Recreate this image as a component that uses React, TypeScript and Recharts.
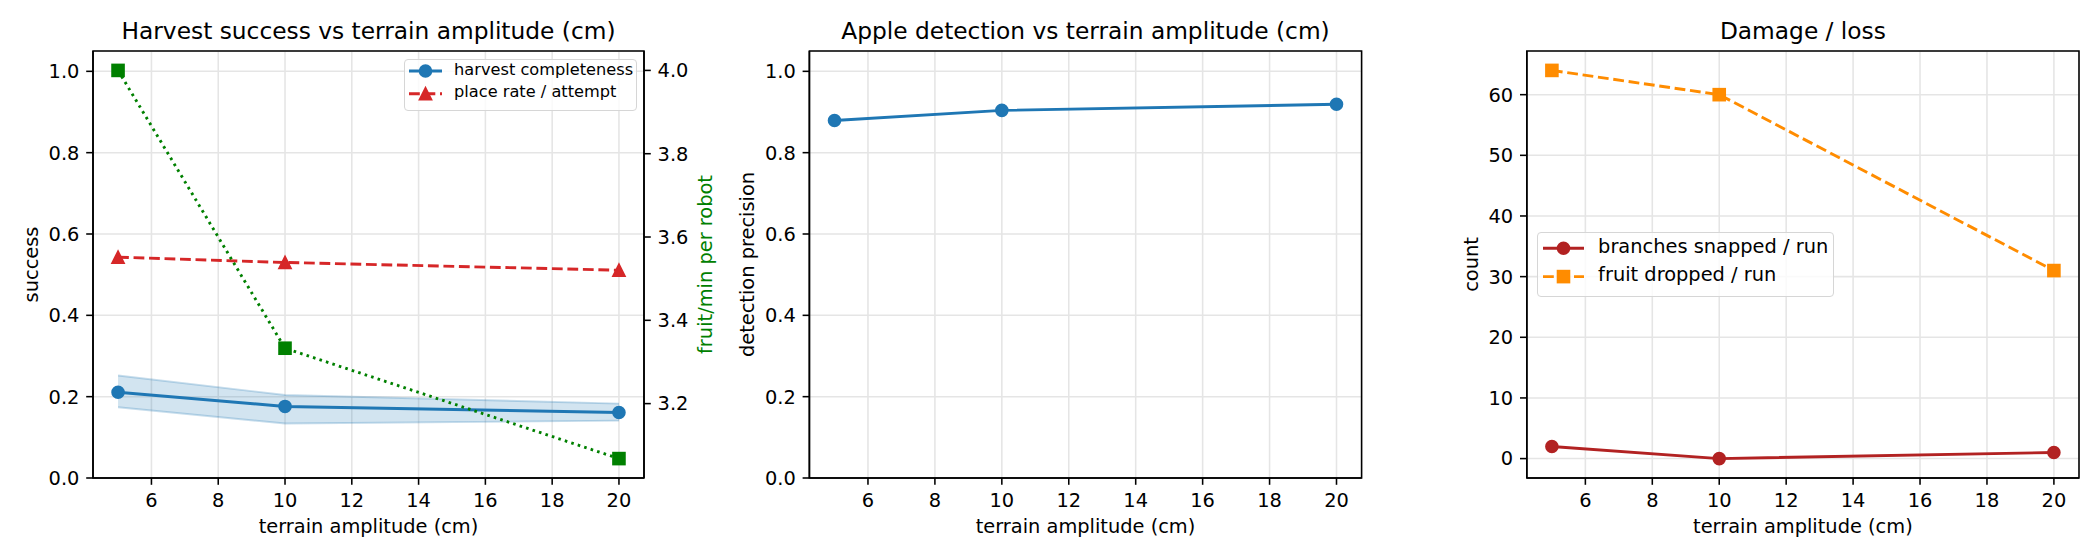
import React from 'react';
import {
  Area,
  CartesianGrid,
  ComposedChart,
  Label,
  Legend,
  Line,
  LineChart,
  ReferenceArea,
  XAxis,
  YAxis,
} from 'recharts';

// terrain amplitude sweep (cm)
const amplitudes = [5, 10, 20];

// panel 1: harvest success
const harvestCompleteness = [0.211, 0.176, 0.161];
const harvestLow = [0.174, 0.134, 0.141];
const harvestHigh = [0.252, 0.204, 0.183];
const placeRate = [0.543, 0.53, 0.511];
const fruitPerMinute = [4.0, 3.333, 3.068];

// panel 2: detection
const detectionPrecision = [0.879, 0.904, 0.919];

// panel 3: damage / loss
const branchesSnapped = [2, 0, 1];
const fruitDropped = [64, 60, 31];

const xTicks = [6, 8, 10, 12, 14, 16, 18, 20];
const unitTicks = [0, 0.2, 0.4, 0.6, 0.8, 1.0];
const rateTicks = [3.2, 3.4, 3.6, 3.8, 4.0];
const countTicks = [0, 10, 20, 30, 40, 50, 60];

// matplotlib-style 5% autoscale margins
const padded = (vals: number[]): [number, number] => {
  const lo = Math.min(...vals);
  const hi = Math.max(...vals);
  const m = (hi - lo) * 0.05;
  return [lo - m, hi + m];
};

const xDomain = padded(amplitudes);
const unitDomain: [number, number] = [0, 1.05];
const rateDomain = padded(fruitPerMinute);
const countDomain = padded([...branchesSnapped, ...fruitDropped]);

const panel1Data = amplitudes.map((x, i) => ({
  x,
  harvest: harvestCompleteness[i],
  band: [harvestLow[i], harvestHigh[i]],
  place: placeRate[i],
  rate: fruitPerMinute[i],
}));
const panel2Data = amplitudes.map((x, i) => ({ x, precision: detectionPrecision[i] }));
const panel3Data = amplitudes.map((x, i) => ({
  x,
  branches: branchesSnapped[i],
  dropped: fruitDropped[i],
}));

const INK = '#000';
const GRID = '#e5e5e5';
const BLUE = '#1f77b4';
const RED = '#d62728';
const GREEN = '#008000';
const FIREBRICK = '#b22222';
const ORANGE = '#ff8c00';

const LW = 2.9;
const MS = 11.7;
const MEW = 1.9;
const DASHED = '10.8 4.7';
const DOTTED = '2.6 4.2';

const TICK_FS = 19.4;
const LABEL_FS = 19.4;
const TITLE_FS = 23.3;

const axisLine = { stroke: INK, strokeWidth: 1.56 };
const tickLine = { stroke: INK, strokeWidth: 1.56 };
const tickStyle = { fontSize: TICK_FS, fill: INK };

type MarkerKind = 'circle' | 'square' | 'triangle';

function markerShape(kind: MarkerKind, cx: number, cy: number, color: string, key?: React.Key) {
  const h = MS / 2;
  if (kind === 'square') {
    return (
      <rect key={key} x={cx - h} y={cy - h} width={MS} height={MS} fill={color} stroke={color} strokeWidth={MEW} />
    );
  }
  if (kind === 'triangle') {
    return (
      <polygon
        key={key}
        points={`${cx},${cy - h} ${cx - h},${cy + h} ${cx + h},${cy + h}`}
        fill={color}
        stroke={color}
        strokeWidth={MEW}
      />
    );
  }
  return <circle key={key} cx={cx} cy={cy} r={h} fill={color} stroke={color} strokeWidth={MEW} />;
}

const dotOf = (kind: MarkerKind, color: string) => (p: any) =>
  markerShape(kind, p.cx, p.cy, color, `${p.dataKey}-${p.index}`);

type LegendItem = { name: string; color: string; marker: MarkerKind; dash?: string };

interface MplLegendProps {
  items: LegendItem[];
  width: number;
  height: number;
  fontSize: number;
  firstRow: number;
  rowPitch: number;
  handleX0: number;
  handleX1: number;
  textX: number;
}

function MplLegend({ items, width, height, fontSize, firstRow, rowPitch, handleX0, handleX1, textX }: MplLegendProps) {
  return (
    <div
      style={{
        position: 'relative',
        width,
        height,
        boxSizing: 'border-box',
        border: '1.9px solid #d6d6d6',
        borderRadius: 4,
        background: 'rgba(255,255,255,0.8)',
        fontFamily: '"DejaVu Sans", sans-serif',
      }}
    >
      <svg width={width} height={height} style={{ position: 'absolute', left: -1.9, top: -1.9 }}>
        {items.map((it, i) => {
          const cy = firstRow + i * rowPitch;
          return (
            <g key={it.name}>
              <line
                x1={handleX0}
                x2={handleX1}
                y1={cy}
                y2={cy}
                stroke={it.color}
                strokeWidth={LW}
                strokeDasharray={it.dash}
              />
              {markerShape(it.marker, (handleX0 + handleX1) / 2, cy, it.color)}
            </g>
          );
        })}
      </svg>
      {items.map((it, i) => {
        const cy = firstRow + i * rowPitch;
        return (
          <span
            key={it.name}
            style={{
              position: 'absolute',
              left: textX - 1.9,
              top: cy - 1.9 - 0.576 * fontSize,
              fontSize,
              lineHeight: 1,
              whiteSpace: 'nowrap',
              color: INK,
            }}
          >
            {it.name}
          </span>
        );
      })}
    </div>
  );
}

const panel1Legend: LegendItem[] = [
  { name: 'harvest completeness', color: BLUE, marker: 'circle' },
  { name: 'place rate / attempt', color: RED, marker: 'triangle', dash: DASHED },
];

const panel3Legend: LegendItem[] = [
  { name: 'branches snapped / run', color: FIREBRICK, marker: 'circle' },
  { name: 'fruit dropped / run', color: ORANGE, marker: 'square', dash: DASHED },
];

const xAxisProps = {
  dataKey: 'x',
  type: 'number' as const,
  domain: xDomain,
  ticks: xTicks,
  interval: 0 as const,
  height: 56,
  tickSize: 6.8,
  tickMargin: 8,
  tick: tickStyle,
  axisLine,
  tickLine,
};

const yTickProps = {
  type: 'number' as const,
  interval: 0 as const,
  tickSize: 6.8,
  tickMargin: 6.8,
  tick: tickStyle,
  axisLine,
  tickLine,
};

const oneDecimal = (v: number) => v.toFixed(1);

function HarvestPanel() {
  return (
    <ComposedChart width={720} height={560} data={panel1Data} margin={{ top: 51, right: 20, bottom: 26, left: 0 }}>
      <CartesianGrid yAxisId="left" stroke={GRID} strokeWidth={1.56} />
      <XAxis {...xAxisProps}>
        <Label value="terrain amplitude (cm)" position="insideBottom" offset={1} fontSize={LABEL_FS} fill={INK} />
      </XAxis>
      <YAxis yAxisId="left" {...yTickProps} domain={unitDomain} ticks={unitTicks} width={93} tickFormatter={oneDecimal}>
        <Label value="success" angle={-90} position="center" dx={-15.6} fontSize={LABEL_FS} fill={INK} />
      </YAxis>
      <YAxis
        yAxisId="right"
        orientation="right"
        {...yTickProps}
        domain={rateDomain}
        ticks={rateTicks}
        width={56}
        tickFormatter={oneDecimal}
      >
        <Label value="fruit/min per robot" angle={-90} position="center" dx={33} fontSize={LABEL_FS} fill={GREEN} />
      </YAxis>
      <Area
        yAxisId="left"
        type="linear"
        dataKey="band"
        stroke={BLUE}
        strokeOpacity={0.25}
        strokeWidth={1.9}
        fill={BLUE}
        fillOpacity={0.2}
        dot={false}
        activeDot={false}
        isAnimationActive={false}
      />
      <Line
        yAxisId="left"
        type="linear"
        dataKey="harvest"
        stroke={BLUE}
        strokeWidth={LW}
        dot={dotOf('circle', BLUE)}
        activeDot={false}
        isAnimationActive={false}
      />
      <Line
        yAxisId="left"
        type="linear"
        dataKey="place"
        stroke={RED}
        strokeWidth={LW}
        strokeDasharray={DASHED}
        dot={dotOf('triangle', RED)}
        activeDot={false}
        isAnimationActive={false}
      />
      <Line
        yAxisId="right"
        type="linear"
        dataKey="rate"
        stroke={GREEN}
        strokeWidth={LW}
        strokeDasharray={DOTTED}
        dot={dotOf('square', GREEN)}
        activeDot={false}
        isAnimationActive={false}
      />
      <ReferenceArea
        yAxisId="left"
        x1={xDomain[0]}
        x2={xDomain[1]}
        y1={unitDomain[0]}
        y2={unitDomain[1]}
        fill="none"
        stroke={INK}
        strokeWidth={1.56}
        ifOverflow="visible"
      >
        <Label value="Harvest success vs terrain amplitude (cm)" position="top" offset={11.7} fontSize={TITLE_FS} fill={INK} />
      </ReferenceArea>
      <Legend
        layout="horizontal"
        verticalAlign="middle"
        align="center"
        wrapperStyle={{ left: 404, top: 59, width: 233, height: 52 }}
        content={() => (
          <MplLegend
            items={panel1Legend}
            width={233}
            height={52}
            fontSize={16.2}
            firstRow={13}
            rowPitch={22.7}
            handleX0={6}
            handleX1={39}
            textX={51}
          />
        )}
      />
    </ComposedChart>
  );
}

function DetectionPanel() {
  return (
    <LineChart width={660} height={560} data={panel2Data} margin={{ top: 51, right: 18.4, bottom: 26, left: 0 }}>
      <CartesianGrid stroke={GRID} strokeWidth={1.56} />
      <XAxis {...xAxisProps}>
        <Label value="terrain amplitude (cm)" position="insideBottom" offset={1} fontSize={LABEL_FS} fill={INK} />
      </XAxis>
      <YAxis {...yTickProps} domain={unitDomain} ticks={unitTicks} width={89.4} tickFormatter={oneDecimal}>
        <Label value="detection precision" angle={-90} position="center" dx={-17.6} fontSize={LABEL_FS} fill={INK} />
      </YAxis>
      <Line
        type="linear"
        dataKey="precision"
        stroke={BLUE}
        strokeWidth={LW}
        dot={dotOf('circle', BLUE)}
        activeDot={false}
        isAnimationActive={false}
      />
      <ReferenceArea
        x1={xDomain[0]}
        x2={xDomain[1]}
        y1={unitDomain[0]}
        y2={unitDomain[1]}
        fill="none"
        stroke={INK}
        strokeWidth={1.56}
        ifOverflow="visible"
      >
        <Label value="Apple detection vs terrain amplitude (cm)" position="top" offset={11.7} fontSize={TITLE_FS} fill={INK} />
      </ReferenceArea>
    </LineChart>
  );
}

function DamagePanel() {
  return (
    <LineChart width={660} height={560} data={panel3Data} margin={{ top: 51, right: 21, bottom: 26, left: 0 }}>
      <CartesianGrid stroke={GRID} strokeWidth={1.56} />
      <XAxis {...xAxisProps}>
        <Label value="terrain amplitude (cm)" position="insideBottom" offset={1} fontSize={LABEL_FS} fill={INK} />
      </XAxis>
      <YAxis {...yTickProps} domain={countDomain} ticks={countTicks} width={86.8}>
        <Label value="count" angle={-90} position="center" dx={-12.6} fontSize={LABEL_FS} fill={INK} />
      </YAxis>
      <Line
        type="linear"
        dataKey="branches"
        stroke={FIREBRICK}
        strokeWidth={LW}
        dot={dotOf('circle', FIREBRICK)}
        activeDot={false}
        isAnimationActive={false}
      />
      <Line
        type="linear"
        dataKey="dropped"
        stroke={ORANGE}
        strokeWidth={LW}
        strokeDasharray={DASHED}
        dot={dotOf('square', ORANGE)}
        activeDot={false}
        isAnimationActive={false}
      />
      <ReferenceArea
        x1={xDomain[0]}
        x2={xDomain[1]}
        y1={countDomain[0]}
        y2={countDomain[1]}
        fill="none"
        stroke={INK}
        strokeWidth={1.56}
        ifOverflow="visible"
      >
        <Label value="Damage / loss" position="top" offset={11.7} fontSize={TITLE_FS} fill={INK} />
      </ReferenceArea>
      <Legend
        layout="horizontal"
        verticalAlign="middle"
        align="center"
        wrapperStyle={{ left: 97, top: 231.7, width: 297, height: 65 }}
        content={() => (
          <MplLegend
            items={panel3Legend}
            width={297}
            height={65}
            fontSize={19.4}
            firstRow={17.3}
            rowPitch={28.3}
            handleX0={7}
            handleX1={48}
            textX={62}
          />
        )}
      />
    </LineChart>
  );
}

export default function App() {
  return (
    <div
      style={{
        position: 'absolute',
        left: 0,
        top: 0,
        width: 2100,
        height: 560,
        background: '#fff',
        overflow: 'hidden',
        fontFamily: '"DejaVu Sans", sans-serif',
      }}
    >
      <div style={{ position: 'absolute', left: 0, top: 0 }}>
        <HarvestPanel />
      </div>
      <div style={{ position: 'absolute', left: 720, top: 0 }}>
        <DetectionPanel />
      </div>
      <div style={{ position: 'absolute', left: 1440, top: 0 }}>
        <DamagePanel />
      </div>
    </div>
  );
}
